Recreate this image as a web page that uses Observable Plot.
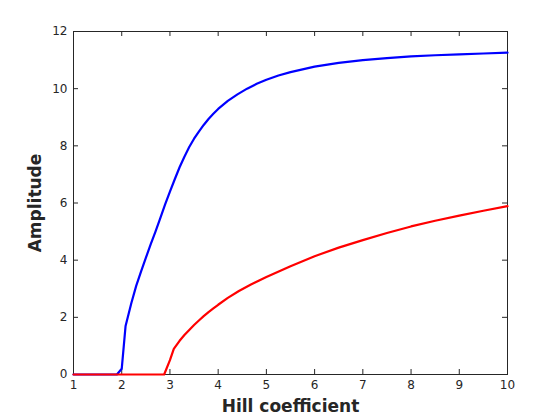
<!DOCTYPE html>
<html>
<head>
<meta charset="utf-8">
<script src="https://cdn.jsdelivr.net/npm/d3@7"></script>
<script src="https://cdn.jsdelivr.net/npm/@observablehq/plot@0.6"></script>
<style>
  body { margin: 0; background: #fff; }
  #chart { width: 560px; height: 420px; }
</style>
</head>
<body>
<div id="chart"></div>
<script>
const blueX = [1, 1.9, 2.0, 2.08, 2.2, 2.3, 2.4, 2.5, 2.6, 2.7, 2.8, 2.9, 3.0, 3.1, 3.2, 3.3, 3.4, 3.5, 3.6, 3.7, 3.8, 3.9, 4.0, 4.2, 4.4, 4.6, 4.8, 5.0, 5.25, 5.5, 6.0, 6.5, 7.0, 7.5, 8.0, 8.5, 9.0, 9.5, 10.0];
const blueY = [0, 0, 0.2, 1.7, 2.5, 3.1, 3.6, 4.08, 4.55, 5.0, 5.47, 5.95, 6.4, 6.83, 7.25, 7.62, 7.96, 8.25, 8.5, 8.73, 8.94, 9.12, 9.29, 9.57, 9.8, 10.0, 10.17, 10.31, 10.46, 10.58, 10.77, 10.9, 11.0, 11.07, 11.13, 11.17, 11.2, 11.23, 11.26];
const redX = [1, 2.88, 3.0, 3.08, 3.2, 3.3, 3.4, 3.5, 3.6, 3.7, 3.8, 3.9, 4.0, 4.2, 4.43, 4.67, 5.0, 5.5, 6.0, 6.5, 7.0, 7.5, 8.0, 8.5, 9.0, 9.5, 10.0];
const redY = [0, 0, 0.5, 0.9, 1.18, 1.38, 1.56, 1.73, 1.89, 2.04, 2.18, 2.31, 2.44, 2.68, 2.92, 3.14, 3.41, 3.79, 4.14, 4.44, 4.7, 4.95, 5.18, 5.38, 5.56, 5.73, 5.89];
const xTicks = [1, 2, 3, 4, 5, 6, 7, 8, 9, 10];
const yTicks = [0, 2, 4, 6, 8, 10, 12];
const xLabel = "Hill coefficient";
const yLabel = "Amplitude";

const blue = blueX.map((x, i) => ({x, y: blueY[i]}));
const red = redX.map((x, i) => ({x, y: redY[i]}));

const W = 560, H = 420;
const mL = 73, mR = 53, mT = 31, mB = 46;
const fw = W - mL - mR, fh = H - mT - mB;
const ink = "#262626";
const tl = 5;

const chart = Plot.plot({
  width: W, height: H,
  marginLeft: mL, marginRight: mR, marginTop: mT, marginBottom: mB,
  style: {fontFamily: "DejaVu Sans", fontSize: "12px", color: ink, background: "#fff"},
  x: {domain: [1, 10]},
  y: {domain: [0, 12]},
  marks: [
    Plot.axisX(xTicks, {anchor: "bottom", tickSize: 0, tickPadding: 6, label: null, fontSize: 12, fill: ink}),
    Plot.axisY(yTicks, {anchor: "left", tickSize: 0, tickPadding: 6, label: null, fontSize: 12, fill: ink}),
    Plot.tickX(xTicks, {x: d => d, insetTop: fh - tl, stroke: ink, strokeWidth: 1}),
    Plot.tickX(xTicks, {x: d => d, insetBottom: fh - tl, stroke: ink, strokeWidth: 1}),
    Plot.tickY(yTicks, {y: d => d, insetRight: fw - tl, stroke: ink, strokeWidth: 1}),
    Plot.tickY(yTicks, {y: d => d, insetLeft: fw - tl, stroke: ink, strokeWidth: 1}),
    Plot.frame({stroke: ink, strokeWidth: 1}),
    Plot.line(blue, {x: "x", y: "y", stroke: "#0000ff", strokeWidth: 2.2}),
    Plot.line(red, {x: "x", y: "y", stroke: "#ff0000", strokeWidth: 2.2}),
    Plot.text([xLabel], {frameAnchor: "bottom", lineAnchor: "middle", textAnchor: "middle", dy: 32, text: d => d, fontSize: 17, fontWeight: "bold", fill: ink}),
    Plot.text([yLabel], {frameAnchor: "left", lineAnchor: "middle", textAnchor: "middle", dx: -38, rotate: -90, text: d => d, fontSize: 17, fontWeight: "bold", fill: ink})
  ]
});
document.getElementById("chart").appendChild(chart);
</script>
</body>
</html>
